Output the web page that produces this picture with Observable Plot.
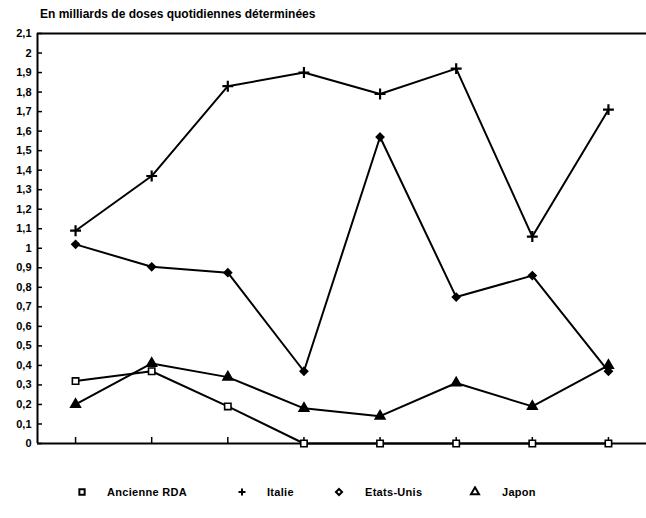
<!DOCTYPE html>
<html><head><meta charset="utf-8">
<script src="https://cdn.jsdelivr.net/npm/d3@7"></script>
<script src="https://cdn.jsdelivr.net/npm/@observablehq/plot@0.6"></script>
<style>
body{margin:0;background:#fff;font-family:"Liberation Sans",Arial,sans-serif;color:#000;}
#wrap{position:relative;width:646px;height:518px;overflow:hidden;}
#title{position:absolute;left:40px;top:7px;font-weight:bold;font-size:12px;white-space:nowrap;}
#chart{position:absolute;left:0;top:24px;}
.leg{position:absolute;top:486px;font-weight:bold;font-size:11px;letter-spacing:0.3px;white-space:nowrap;line-height:12px;}
.sym{position:absolute;top:486px;}
</style></head><body>
<div id="wrap">
  <div id="title">En milliards de doses quotidiennes déterminées</div>
  <div id="chart"></div>
  <div id="legend"></div>
</div>
<script>
// x positions (8 unlabelled periods)
const points = [1, 2, 3, 4, 5, 6, 7, 8];
const seriesNames = ["Ancienne RDA", "Italie", "Etats-Unis", "Japon"];
const rda       = [0.32, 0.37, 0.19, 0, 0, 0, 0, 0];
const italie    = [1.09, 1.37, 1.83, 1.90, 1.79, 1.92, 1.06, 1.71];
const etatsUnis = [1.02, 0.905, 0.875, 0.37, 1.57, 0.75, 0.86, 0.37];
const japon     = [0.20, 0.41, 0.34, 0.18, 0.14, 0.31, 0.19, 0.40];
const yTicks = [0, 0.1, 0.2, 0.3, 0.4, 0.5, 0.6, 0.7, 0.8, 0.9, 1, 1.1, 1.2, 1.3, 1.4, 1.5, 1.6, 1.7, 1.8, 1.9, 2, 2.1];
const xDomain = [0.5, 8.5];
const yDomain = [0, 2.1];

const seriesValues = [rda, italie, etatsUnis, japon];
const symbols = ["square", "plus", "diamond2", "triangle"];
const fills = ["white", "none", "black", "black"];
const radii = [3.6, 3.6, 3.4, 3.6];
const rows = [];
seriesNames.forEach((s, k) => seriesValues[k].forEach((v, i) => rows.push({s, x: points[i], v})));

const dots = seriesNames.map((s, k) => Plot.dot(rows.filter(d => d.s === s), {
  x: "x", y: "v", symbol: () => symbols[k], r: radii[k],
  fill: fills[k], stroke: "black", strokeWidth: k === 1 ? 2.2 : 1.6
}));

const chart = Plot.plot({
  width: 646, height: 446,
  marginLeft: 37, marginRight: 0, marginTop: 9, marginBottom: 27,
  style: {fontFamily: "'Liberation Sans', Arial, sans-serif", fontWeight: "bold", fontSize: "11px", background: "white", color: "black"},
  x: {domain: xDomain, axis: null},
  y: {domain: yDomain, axis: null},
  symbol: {type: "identity"},
  marks: [
    Plot.axisY(yTicks, {tickSize: -5, tickPadding: 11, strokeWidth: 1.5, label: null,
      tickFormat: d => String(d).replace(".", ",")}),
    Plot.axisX(points, {tickSize: -6, strokeWidth: 1.5, label: null, tickFormat: () => ""}),
    Plot.ruleX([xDomain[0]], {stroke: "black", strokeWidth: 2}),
    Plot.ruleY([yDomain[0], yDomain[1]], {stroke: "black", strokeWidth: 2}),
    Plot.line(rows, {x: "x", y: "v", z: "s", stroke: "black", strokeWidth: 2}),
    ...dots
  ]
});
document.getElementById("chart").appendChild(chart);

// legend
const legSym = [82, 242, 339, 475];
const legText = [107, 267, 365, 502];
const legShapes = [d3.symbolSquare, d3.symbolCross, d3.symbolDiamond2, d3.symbolTriangle];
const legend = document.getElementById("legend");
seriesNames.forEach((s, k) => {
  const svg = d3.create("svg").attr("width", 12).attr("height", 12).attr("class", "sym")
    .style("left", (legSym[k] - 6) + "px");
  svg.append("path").attr("transform", "translate(6,6)")
    .attr("d", k === 1 ? "M-3.5,0H3.5M0,-3.5V3.5" : d3.symbol(legShapes[k], k === 2 ? 24 : 28)())
    .attr("fill", "white").attr("stroke", "black").attr("stroke-width", 2);
  legend.appendChild(svg.node());
  const t = document.createElement("div");
  t.className = "leg"; t.style.left = legText[k] + "px"; t.textContent = s;
  legend.appendChild(t);
});
</script>
</body></html>
